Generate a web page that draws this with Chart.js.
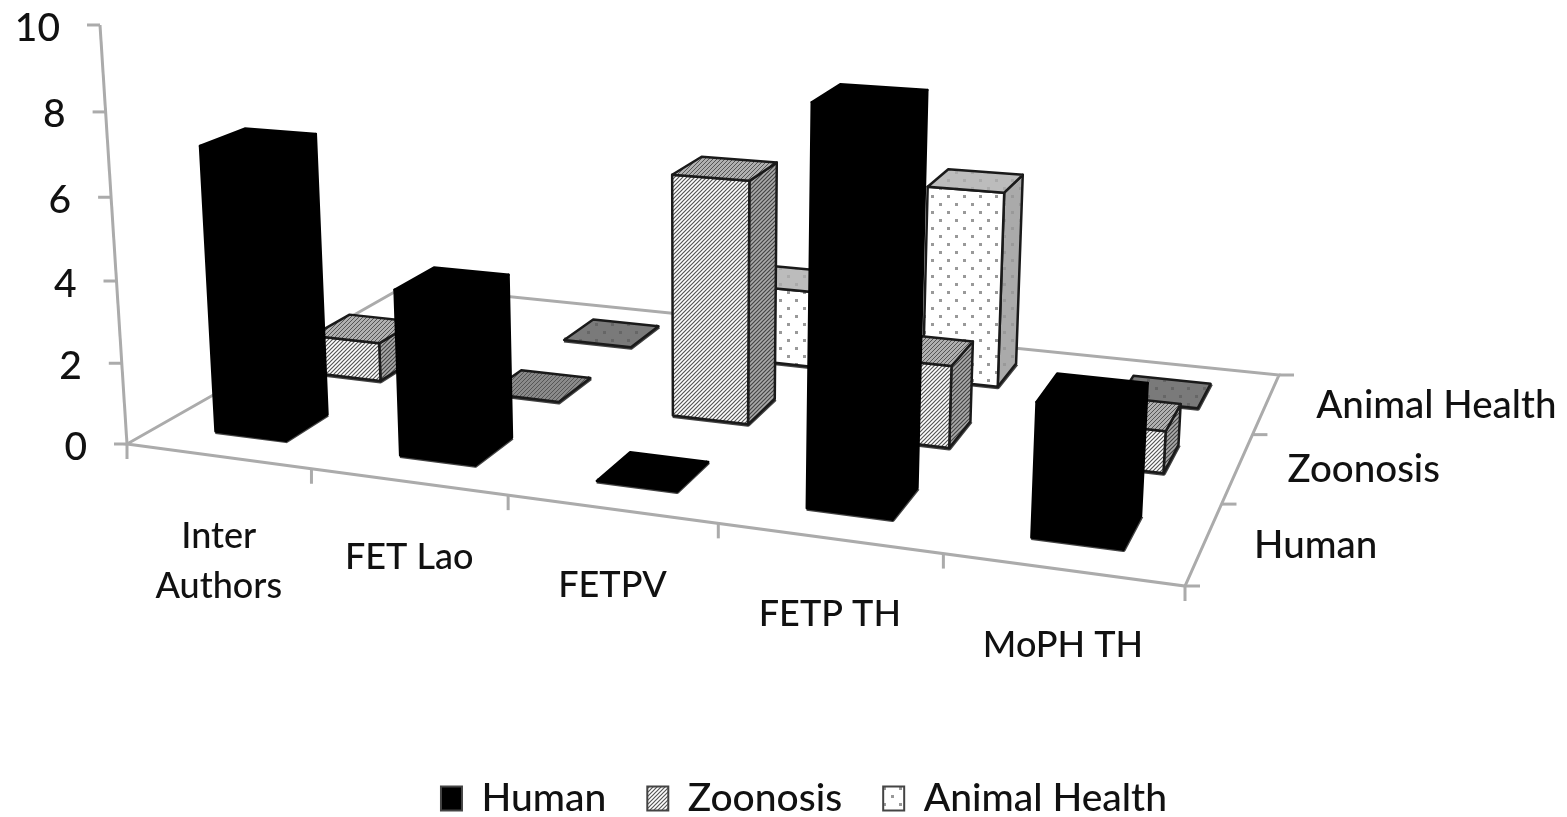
<!DOCTYPE html>
<html>
<head>
<meta charset="utf-8">
<title>Bars</title>
<script src="https://cdn.jsdelivr.net/npm/chart.js@4"></script>
<style>
body { margin: 0; background: #fff; }
canvas { display: block; }
</style>
</head>
<body>
<canvas id="grafico" width="1567" height="817"></canvas>
<script>
const categorias = [['Inter', 'Authors'], ['FET Lao'], ['FETPV'], ['FETP TH'], ['MoPH TH']];
const series = ['Human', 'Zoonosis', 'Animal Health'];
const human = [7, 4, 0, 9, 3];
const zoonosis = [1, 0, 6, 2, 1];
const animal = [0, 0, 2, 5, 0];
const yTicks = [0, 2, 4, 6, 8, 10];

// cantos do piso na tela e ponto de fuga das verticais
const piso = [[127, 444], [1185, 586], [1279, 375], [405, 286]];
const fuga = [699, 9322];
const kAltura = -0.004507;

function montarPiso() {
    const [p0, p1, p2, p3] = piso;
    const dx1 = p1[0] - p2[0], dx2 = p3[0] - p2[0], sx = p0[0] - p1[0] + p2[0] - p3[0];
    const dy1 = p1[1] - p2[1], dy2 = p3[1] - p2[1], sy = p0[1] - p1[1] + p2[1] - p3[1];
    const den = dx1 * dy2 - dx2 * dy1;
    const g = (sx * dy2 - dx2 * sy) / den;
    const h = (dx1 * sy - sx * dy1) / den;
    return {
        a: p1[0] - p0[0] + g * p1[0], b: p3[0] - p0[0] + h * p3[0], c: p0[0],
        d: p1[1] - p0[1] + g * p1[1], e: p3[1] - p0[1] + h * p3[1], f: p0[1],
        g: g, h: h
    };
}
const m = montarPiso();

// u: 0..5 categorias, d: 0..3 series, alt: valor do eixo y
function proj(u, d, alt) {
    const s = u / categorias.length, t = d / series.length;
    const w = m.g * s + m.h * t + 1 + kAltura * alt;
    return [
        (m.a * s + m.b * t + m.c + kAltura * alt * fuga[0]) / w,
        (m.d * s + m.e * t + m.f + kAltura * alt * fuga[1]) / w
    ];
}

function padrao(fundo, desenha, tam) {
    const c = document.createElement('canvas');
    c.width = tam; c.height = tam;
    const g = c.getContext('2d');
    g.fillStyle = fundo;
    g.fillRect(0, 0, tam, tam);
    desenha(g);
    return c;
}
function riscos(cor, larg) {
    return g => {
        g.strokeStyle = cor;
        g.lineWidth = larg;
        g.beginPath();
        g.moveTo(-1, 5); g.lineTo(5, -1);
        g.moveTo(-1, 1); g.lineTo(1, -1);
        g.moveTo(3, 5); g.lineTo(5, 3);
        g.stroke();
    };
}
function pontos(cor) {
    return g => {
        g.fillStyle = cor;
        g.fillRect(3, 3, 3, 3);
        g.fillRect(11, 11, 3, 3);
    };
}
const ctx = document.getElementById('grafico').getContext('2d');
const texHatch = ctx.createPattern(padrao('#fff', riscos('#555', 1.2), 4), 'repeat');
const texHatchLado = ctx.createPattern(padrao('#aaa', riscos('#444', 1.2), 4), 'repeat');
const texHatchTopo = ctx.createPattern(padrao('#b0b0b0', riscos('#555', 1), 4), 'repeat');
const texHatchZero = ctx.createPattern(padrao('#8a8a8a', riscos('#555', 1), 4), 'repeat');
const texDots = ctx.createPattern(padrao('#fff', pontos('#999'), 16), 'repeat');
const texDotsLado = ctx.createPattern(padrao('#aaa', pontos('#999'), 16), 'repeat');
const texDotsTopo = ctx.createPattern(padrao('#bcbcbc', pontos('#aaa'), 16), 'repeat');
const texDotsZero = ctx.createPattern(padrao('#7a7a7a', pontos('#666'), 16), 'repeat');

const faces = [
    { frente: '#000', lado: '#000', topo: '#000', zero: '#000', linha: '#000' },
    { frente: texHatch, lado: texHatchLado, topo: texHatchTopo, zero: texHatchZero, linha: '#1a1a1a' },
    { frente: texDots, lado: texDotsLado, topo: texDotsTopo, zero: texDotsZero, linha: '#1a1a1a' }
];

function poligono(c, pts, fill, linha, larg) {
    c.beginPath();
    pts.forEach((p, i) => i ? c.lineTo(p[0], p[1]) : c.moveTo(p[0], p[1]));
    c.closePath();
    c.fillStyle = fill;
    c.fill();
    c.strokeStyle = linha;
    c.lineWidth = larg;
    c.lineJoin = 'round';
    c.stroke();
}

function desenharCaixa(c, u0, u1, d0, d1, alt, f) {
    // borda escura na base
    c.strokeStyle = '#444';
    c.lineWidth = 5;
    c.beginPath();
    c.moveTo(...proj(u0, d0, 0));
    c.lineTo(...proj(u1, d0, 0));
    c.lineTo(...proj(u1, d1, 0));
    c.stroke();
    if (alt > 0) {
        poligono(c, [proj(u1, d0, 0), proj(u1, d1, 0), proj(u1, d1, alt), proj(u1, d0, alt)], f.lado, f.linha, 2.5);
        poligono(c, [proj(u0, d0, 0), proj(u1, d0, 0), proj(u1, d0, alt), proj(u0, d0, alt)], f.frente, f.linha, 2.5);
    }
    poligono(c, [proj(u0, d0, alt), proj(u1, d0, alt), proj(u1, d1, alt), proj(u0, d1, alt)], alt > 0 ? f.topo : f.zero, f.linha, 2.5);
}

function linhaEixo(c, a, b) {
    c.beginPath();
    c.moveTo(a[0], a[1]);
    c.lineTo(b[0], b[1]);
    c.stroke();
}

const barras3d = {
    id: 'barras3d',
    beforeDatasetsDraw(chart) {
        const c = chart.ctx;
        const xs = chart.scales.x, ys = chart.scales.y;
        const nc = categorias.length, ns = series.length;

        // eixos e marcas
        c.save();
        c.strokeStyle = '#ababab';
        c.lineWidth = 3;
        linhaEixo(c, proj(0, 0, 0), proj(0, 0, 10));
        c.beginPath();
        [[0, 0], [nc, 0], [nc, ns], [0, ns]].forEach((p, i) => {
            const q = proj(p[0], p[1], 0);
            i ? c.lineTo(q[0], q[1]) : c.moveTo(q[0], q[1]);
        });
        c.closePath();
        c.stroke();
        for (let i = 0; i <= nc; i++) {
            const q = proj(i, 0, 0);
            linhaEixo(c, q, [q[0], q[1] + 15]);
        }
        for (let i = 0; i <= ns; i++) {
            const q = proj(nc, i, 0);
            linhaEixo(c, q, [q[0] + 15, q[1]]);
        }
        yTicks.forEach(v => {
            const q = proj(0, 0, ys.getValueForPixel(ys.getPixelForValue(v)));
            linhaEixo(c, q, [q[0] - 13, q[1]]);
        });

        // rotulos
        c.fillStyle = '#111';
        c.font = '500 39px Lato';
        c.textBaseline = 'middle';
        c.textAlign = 'right';
        yTicks.forEach(v => {
            const q = proj(0, 0, v);
            c.fillText(String(v), q[0] - 40, q[1] + 3);
        });
        c.font = '500 36px Lato';
        c.textAlign = 'center';
        categorias.forEach((nome, i) => {
            const q = proj(i + 0.5, 0, 0);
            const y0 = q[1] + 76 + (nome.length - 1) * 4;
            nome.forEach((t, j) => c.fillText(t, q[0] + 1, y0 + j * 50));
        });
        c.font = '500 38.5px Lato';
        c.textAlign = 'left';
        series.forEach((nome, i) => {
            const q = proj(nc, i + 0.5, 0);
            c.fillText(nome, q[0] + 50, q[1] + 2);
        });

        // barras, de tras para frente
        for (let s = ns - 1; s >= 0; s--) {
            chart.getDatasetMeta(s).data.forEach(el => {
                const u0 = (el.x - el.width / 2 - xs.left) / xs.width * nc;
                const u1 = (el.x + el.width / 2 - xs.left) / xs.width * nc;
                desenharCaixa(c, u0, u1, s + 0.31, s + 0.73, ys.getValueForPixel(el.y), faces[s]);
            });
        }
        c.restore();
        return false;
    }
};

new Chart(ctx, {
    type: 'bar',
    data: {
        labels: categorias.map(n => n.join(' ')),
        datasets: [
            { label: series[0], data: human, backgroundColor: '#000', borderColor: '#444', borderWidth: 2 },
            { label: series[1], data: zoonosis, backgroundColor: texHatch, borderColor: '#444', borderWidth: 2 },
            { label: series[2], data: animal, backgroundColor: texDots, borderColor: '#444', borderWidth: 2 }
        ]
    },
    options: {
        responsive: false,
        animation: false,
        layout: { padding: { left: 41, bottom: -11 } },
        datasets: { bar: { grouped: false, barPercentage: 0.39, categoryPercentage: 1 } },
        scales: {
            x: { display: false },
            y: { display: false, min: 0, max: 10 }
        },
        plugins: {
            tooltip: { enabled: false },
            legend: {
                position: 'bottom',
                labels: { boxWidth: 21, boxHeight: 24, padding: 41, color: '#111', font: { family: 'Lato', size: 39, weight: '500' } }
            }
        }
    },
    plugins: [barras3d]
});
</script>
</body>
</html>
